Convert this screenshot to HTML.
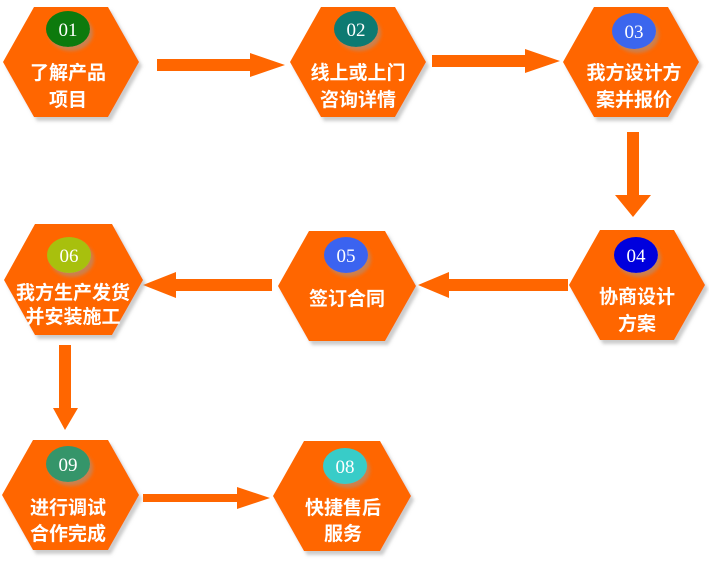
<!DOCTYPE html>
<html><head><meta charset="utf-8"><style>
html,body{margin:0;padding:0;background:#fff;}
svg{display:block;}
text{font-family:"Liberation Serif","Noto Serif CJK SC","Noto Sans CJK SC",serif;fill:#fff;text-anchor:middle;}
.t{font-size:19px;font-weight:bold;font-family:"Liberation Sans","Noto Sans CJK SC",sans-serif;}
.n{font-size:19px;}
</style></head><body>
<svg width="709" height="561" viewBox="0 0 709 561">
<defs><filter id="s" x="-10%" y="-10%" width="130%" height="130%"><feDropShadow dx="3" dy="4" stdDeviation="1.5" flood-color="#999" flood-opacity="0.5"/></filter></defs>
<g fill="#ff6600">
<!-- arrows -->
<polygon points="157,59 250,59 250,53 285,65 250,77 250,71 157,71"/>
<polygon points="432,55 525,55 525,49 560,61 525,73 525,67 432,67"/>
<polygon points="627,132 639,132 639,195 651,195 633,217 615,195 627,195"/>
<polygon points="568,279 449,279 449,272 418,285 449,298 449,291 568,291"/>
<polygon points="272,279 176,279 176,272 143,285 176,298 176,291 272,291"/>
<polygon points="59,345 71,345 71,408 78,408 65,430 53,408 59,408"/>
<polygon points="143,494 237,494 237,487 270,498 237,509 237,502 143,502"/>
</g>
<g fill="#ff6600" filter="url(#s)">
<polygon points="3,62 34,7 108,7 139,62 108,117 34,117"/>
<polygon points="290,62 321,7 395,7 426,62 395,117 321,117"/>
<polygon points="563,62 594,7 668,7 699,62 668,117 594,117"/>
<polygon points="569,285 600,230 674,230 705,285 674,340 600,340"/>
<polygon points="278,286 309,231 385,231 416,286 385,341 309,341"/>
<polygon points="4,280 35,224 112,224 143,280 112,335 35,335"/>
<polygon points="2,495 33,440 108,440 139,495 108,550 33,550"/>
<polygon points="273,496 304,441 380,441 411,496 380,551 304,551"/>
</g>
<g filter="url(#s)">
<ellipse cx="68" cy="29" rx="22" ry="18" fill="#0a7a0a"/>
<ellipse cx="356" cy="29" rx="22" ry="18" fill="#0a7a72"/>
<ellipse cx="634" cy="31" rx="22" ry="18" fill="#3a66ee"/>
<ellipse cx="636" cy="255" rx="22" ry="18" fill="#0000dd"/>
<ellipse cx="346" cy="255" rx="22" ry="18" fill="#3b63f0"/>
<ellipse cx="69" cy="255" rx="22" ry="18" fill="#a8c010"/>
<ellipse cx="68" cy="464" rx="22" ry="18" fill="#35956a"/>
<ellipse cx="345" cy="466" rx="22" ry="18" fill="#38ccc8"/>
</g>
<text class="n" x="68" y="36">01</text>
<text class="n" x="356" y="36">02</text>
<text class="n" x="634" y="38">03</text>
<text class="n" x="636" y="262">04</text>
<text class="n" x="346" y="262">05</text>
<text class="n" x="69" y="262">06</text>
<text class="n" x="68" y="471">09</text>
<text class="n" x="345" y="473">08</text>
<text class="t" x="68" y="79">了解产品</text><text class="t" x="68" y="106">项目</text>
<text class="t" x="358" y="79">线上或上门</text><text class="t" x="358" y="106">咨询详情</text>
<text class="t" x="634" y="79">我方设计方</text><text class="t" x="634" y="106">案并报价</text>
<text class="t" x="637" y="303">协商设计</text><text class="t" x="637" y="330">方案</text>
<text class="t" x="347" y="305">签订合同</text>
<text class="t" x="73" y="299">我方生产发货</text><text class="t" x="73" y="323">并安装施工</text>
<text class="t" x="68" y="514">进行调试</text><text class="t" x="68" y="540">合作完成</text>
<text class="t" x="343" y="514">快捷售后</text><text class="t" x="343" y="540">服务</text>
</svg>
</body></html>
